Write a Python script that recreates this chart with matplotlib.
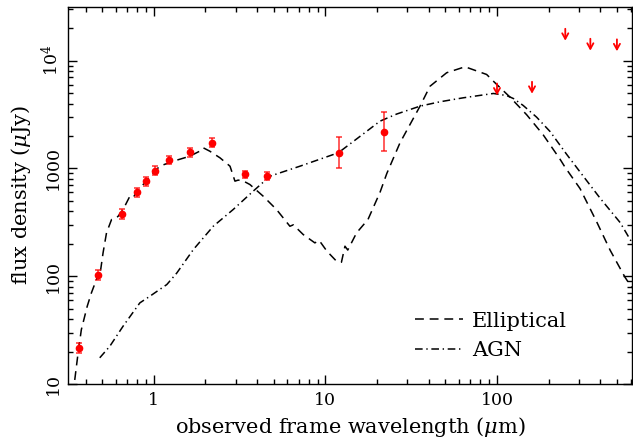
import numpy as np
import matplotlib
matplotlib.use("Agg")
import matplotlib.pyplot as plt
from matplotlib.ticker import LogLocator, NullFormatter

plt.rcParams["font.family"] = ["DejaVu Serif"]
plt.rcParams["mathtext.fontset"] = "dejavuserif"

# --------------------
# Photometry (observed frame, micron / microJy)
# --------------------
phot_wave = [0.365, 0.472, 0.656, 0.80, 0.90, 1.01, 1.22, 1.62, 2.18, 3.38, 4.58, 12.0, 21.9]
phot_flux = [21.6, 103, 380, 600, 760, 956, 1200, 1420, 1730, 880, 848, 1400, 2190]
phot_err_lo = [2.2, 10, 38, 55, 70, 85, 110, 130, 160, 70, 70, 400, 750]
phot_err_hi = [2.4, 11, 42, 60, 75, 95, 120, 140, 180, 75, 75, 550, 1170]

# Herschel upper limits (top of arrow)
lim_wave = [100, 160, 250, 350, 500]
lim_flux = [6150, 6380, 19800, 16000, 15800]

# --------------------
# Template SEDs
# --------------------
ell_wave = [0.335, 0.346, 0.362, 0.378, 0.409, 0.433, 0.463, 0.475, 0.484, 0.506,
            0.530, 0.567, 0.60, 0.619, 0.662, 0.725, 0.76, 0.78, 0.829, 0.906,
            1.08, 1.30, 1.62, 1.85, 1.94, 2.12, 2.43, 2.78, 2.97, 3.1,
            3.3, 3.63, 4.34, 5.19, 6.21, 6.5, 7.42, 8.68, 9.2, 10.2,
            11.6, 12.4, 13.0, 13.5, 15.2, 17.7, 20.8, 22.8, 27.2, 35.6,
            40.7, 50.9, 65.1, 87.0, 97.3, 119, 149, 186, 233, 249,
            305, 381, 456, 557, 612]
ell_flux = [8, 10.9, 19.5, 31.9, 52.6, 70.3, 93.3, 105, 100, 165,
            253, 336, 345, 360, 416, 553, 540, 580, 662, 763,
            1050, 1169, 1300, 1447, 1557, 1447, 1256, 1050, 763, 780,
            770, 710, 553, 416, 291, 300, 244, 204, 215, 171,
            138, 135, 190, 175, 253, 336, 600, 900, 1730, 3790,
            5800, 7740, 8790, 7460, 6250, 4600, 3150, 2050, 1220, 1030,
            650, 320, 175, 98, 78]

agn_wave = [0.484, 0.554, 0.662, 0.829, 0.948, 1.19, 1.36, 1.70, 2.22, 2.90,
            3.79, 4.75, 7.10, 11.9, 16.0, 20.8, 26.0, 35.6, 46.5, 63.6,
            95.3, 114, 125, 142, 170, 204, 255, 318, 399, 522, 612]
agn_flux = [17.5, 22.4, 34.4, 56.6, 65.2, 83.7, 107, 177, 291, 416,
            615, 848, 1050, 1400, 2000, 2750, 3200, 3790, 4160, 4530,
            4970, 4750, 4450, 3850, 3000, 2200, 1350, 850, 530, 315, 205]


def draw_limits(ax, wave, flux):
    for w, f in zip(wave, flux):
        ax.annotate("", xy=(w, f / 1.29), xytext=(w, f),
                    arrowprops=dict(arrowstyle="->,head_length=0.4,head_width=0.22",
                                    color="red", lw=1.3, shrinkA=0, shrinkB=0))


def main():
    fig = plt.figure(figsize=(6.33, 4.40), dpi=100)
    ax = fig.add_axes([0.1074, 0.1273, 0.891, 0.857])

    ax.set_xscale("log")
    ax.set_yscale("log")

    ell_line, = ax.plot(ell_wave, ell_flux, color="black", lw=1.1,
                        dashes=(5.8, 3.8), label="Elliptical")
    agn_line, = ax.plot(agn_wave, agn_flux, color="black", lw=1.1,
                        dashes=(5.0, 2.4, 0.9, 2.4), label="AGN")

    ax.errorbar(phot_wave, phot_flux, yerr=[phot_err_lo, phot_err_hi],
                fmt="o", color="red", ms=4.5, ecolor=(1, 0, 0, 0.75),
                elinewidth=1.2, capsize=2.5, capthick=1.2, zorder=5)

    draw_limits(ax, lim_wave, lim_flux)

    ax.set_xlim(0.316, 612)
    ax.set_ylim(10, 31600)

    ax.set_xticks([1, 10, 100])
    ax.set_xticklabels(["1", "10", "100"])
    ax.set_yticks([10, 100, 1000, 1e4])
    ax.set_yticklabels(["10", "100", "1000", r"$10^4$"], rotation=90, va="center")
    ax.xaxis.set_minor_locator(LogLocator(base=10, subs=np.arange(2, 10)))
    ax.yaxis.set_minor_locator(LogLocator(base=10, subs=np.arange(2, 10)))
    ax.xaxis.set_minor_formatter(NullFormatter())
    ax.yaxis.set_minor_formatter(NullFormatter())

    ax.tick_params(which="both", direction="in", top=True, right=True, width=1.0)
    ax.tick_params(which="major", length=6.5, labelsize=12.5)
    ax.tick_params(which="minor", length=3.6)
    ax.tick_params(axis="x", which="major", pad=6)
    ax.tick_params(axis="y", which="major", pad=4)
    for s in ax.spines.values():
        s.set_linewidth(1.0)

    ax.set_xlabel(r"observed frame wavelength ($\mu$m)", fontsize=15, labelpad=4)
    ax.set_ylabel(r"flux density ($\mu$Jy)", fontsize=15, labelpad=6)

    ax.legend(handles=[ell_line, agn_line], loc="center left",
              bbox_to_anchor=(0.615, 0.128), frameon=False, fontsize=15,
              handlelength=2.3, handletextpad=0.45, labelspacing=0.5,
              borderpad=0, borderaxespad=0)

    fig.savefig("out.png", dpi=100)


if __name__ == "__main__":
    main()
